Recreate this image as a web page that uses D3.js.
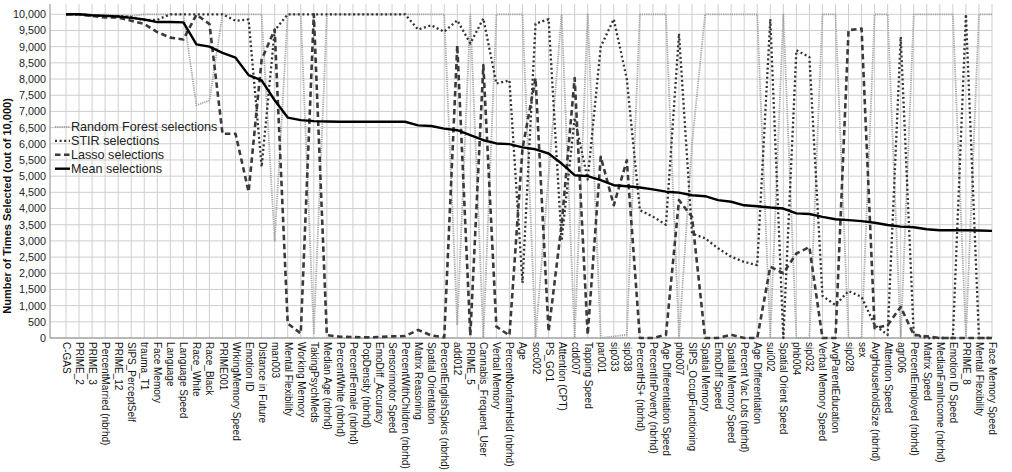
<!DOCTYPE html>
<html><head><meta charset="utf-8">
<script src="https://cdn.jsdelivr.net/npm/d3@7"></script>
<style>
html,body{margin:0;padding:0;background:#fff;}
svg{display:block;font-family:"Liberation Sans",Arial,sans-serif;}
</style></head>
<body>
<svg id="chart" width="1012" height="472"></svg>
<script>
const categories = ["C-GAS","PRIME_2","PRIME_3","PercentMarried (nbrhd)","PRIME_12","SIPS_PerceptSelf","trauma_T1","Face Memory","Language","Language Speed","Race_White","Race_Black","PRIME001","WrkingMemory Speed","Emotion ID","Distance in Future","man003","Mental Flexibility","Working Memory","TakingPsychMeds","Median Age (nbrhd)","PercentWhite (nbrhd)","PercentFemale (nbrhd)","PopDensity (nbrhd)","EmoDiff_Accuracy","Sensorimotor Speed","PercentWithChildren (nbrhd)","Matrix Reasoning","Spatial Orientation","PercentEnglishSpkrs (nbrhd)","add012","PRIME_5","Cannabis_Frequent_User","Verbal Memory","PercentNonfamHsld (nbrhd)","Age","soc002","PS_GO1","Attention (CPT)","cdd007","Tapping Speed","par001","sip033","sip038","PercentHS+ (nbrhd)","PercentInPoverty (nbrhd)","Age Differentiation Speed","phb007","SIPS_OccupFunctioning","Spatial Memory","EmoDiff Speed","Spatial Memory Speed","Percent Vac Lots (nbrhd)","Age Differentiation","sui002","Spatial Orient Speed","phb004","sip032","Verbal Memory Speed","AvgParentEducation","sip028","sex","AvgHouseholdSize (nbrhd)","Attention Speed","agr006","PercentEmployed (nbrhd)","Matrix Speed","MedianFamIncome (nbrhd)","Emotion ID Speed","PRIME_8","Mental Flexibility","Face Memory Speed"];

const rfValues = [10000,9990,9980,9990,9960,9950,10000,10000,10000,10000,7190,7340,10000,10000,10000,10000,3000,10000,10000,150,10000,10000,10000,10000,10000,10000,10000,10000,10000,10000,400,10000,0,10000,10000,10000,0,5000,10000,0,10000,0,50,100,10000,10000,10000,0,6000,10000,10000,10000,10000,10000,0,10000,0,0,10000,10000,0,0,10000,10000,0,10000,10000,10000,10000,0,10000,10000];

const stirValues = [10000,10000,9960,9950,9940,9920,9820,9830,10000,10000,10000,10000,10000,9800,9840,5290,9500,10000,10000,10000,10000,10000,10000,10000,10000,10000,10000,9530,9660,9460,9815,9100,9870,7860,7960,1700,9710,9850,3000,6800,4900,9000,9850,8000,3950,3750,3500,9400,3230,3080,2770,2510,2350,2250,9850,0,8890,8680,1300,1020,1450,1270,400,100,9300,100,0,0,0,10000,0,0];

const lassoValues = [10000,10000,9950,9900,9900,9800,9700,9450,9280,9220,9990,9700,6310,6310,4520,8600,9530,450,140,10000,90,40,30,20,30,50,60,250,80,20,9045,80,8430,350,80,5850,8030,200,3500,8030,100,5600,4100,5490,0,0,100,4260,3740,0,0,100,0,0,2200,2000,2610,2810,0,0,9510,9560,300,400,960,100,50,0,0,0,0,0];

const meanValues = [10000,10000,9970,9950,9930,9890,9840,9760,9760,9750,9070,9000,8810,8660,8120,7960,7345,6810,6730,6700,6690,6680,6680,6680,6680,6680,6680,6570,6550,6470,6420,6270,6110,6010,5990,5890,5830,5700,5390,5030,5000,4880,4720,4690,4650,4590,4520,4490,4410,4380,4260,4210,4100,4070,4030,4000,3850,3830,3740,3670,3640,3610,3560,3490,3440,3420,3360,3330,3330,3330,3320,3310];

const yTicks = [0,500,1000,1500,2000,2500,3000,3500,4000,4500,5000,5500,6000,6500,7000,7500,8000,8500,9000,9500,10000];

const seriesNames = ["Random Forest selections","STIR selections","Lasso selections","Mean selections"];

const styles = [
  {color:"#a3a3a3", width:1.8, dash:"1.2,1"},
  {color:"#333333", width:2.3, dash:"2,2.6"},
  {color:"#3a3a3a", width:2.6, dash:"5.5,3.5"},
  {color:"#000000", width:2.4, dash:null}
];

(function(){
const svg = d3.select("#chart");
const plotLeft = 50, plotRight = 992, plotTop = 4, plotBottom = 338;

const idx = d3.range(categories.length);
const x = d3.scalePoint().domain(idx).range([66, plotRight]);
const y = d3.scaleLinear().domain([0, 10000]).range([plotBottom, 14.3]);

const grid = svg.append("g");
grid.selectAll("line.h").data(yTicks).enter().append("line")
  .attr("x1", plotLeft).attr("x2", plotRight)
  .attr("y1", d => y(d)).attr("y2", d => y(d))
  .attr("stroke", "#cfcfcf").attr("stroke-width", 1);
grid.selectAll("line.v").data(idx).enter().append("line")
  .attr("x1", d => x(d)).attr("x2", d => x(d))
  .attr("y1", plotTop).attr("y2", plotBottom)
  .attr("stroke", "#cfcfcf").attr("stroke-width", 1);

const yAxis = svg.append("g").attr("transform", `translate(${plotLeft},0)`)
  .call(d3.axisLeft(y).tickValues(yTicks).tickFormat(d3.format(",")).tickSize(0).tickPadding(4));
yAxis.select(".domain").attr("d", `M0,${plotTop}V${plotBottom}`).attr("stroke", "#8a8a8a");
yAxis.selectAll("text").attr("font-size", 10.8).attr("fill", "#222").attr("font-family", '"Liberation Sans",Arial,sans-serif');

const xAxis = svg.append("g").attr("transform", `translate(0,${plotBottom})`)
  .call(d3.axisBottom(x).tickSize(0).tickFormat(i => categories[i]));
xAxis.select(".domain").attr("d", `M${plotLeft},0H${plotRight}`).attr("stroke", "#8a8a8a");
xAxis.selectAll("text")
  .attr("transform", "rotate(90)")
  .attr("x", 4).attr("y", 0).attr("dy", "0.35em")
  .attr("text-anchor", "start")
  .attr("font-size", 10).attr("fill", "#111")
  .attr("font-family", '"Liberation Sans",Arial,sans-serif');

svg.append("text")
  .attr("transform", "translate(11,206) rotate(-90)")
  .attr("text-anchor", "middle")
  .attr("font-size", 11).attr("font-weight", "bold").attr("fill", "#111")
  .text("Number of Times Selected (out of 10,000)");

const allSeries = [rfValues, stirValues, lassoValues, meanValues];
const line = d3.line().x((d, i) => x(i)).y(d => y(d));
allSeries.forEach((vals, k) => {
  const s = styles[k];
  const p = svg.append("path").datum(vals)
    .attr("d", line)
    .attr("fill", "none")
    .attr("stroke", s.color)
    .attr("stroke-width", s.width)
    .attr("stroke-linejoin", "round");
  if (s.dash) p.attr("stroke-dasharray", s.dash);
});

const legend = svg.append("g").attr("transform", "translate(55,127)");
seriesNames.forEach((name, k) => {
  const s = styles[k];
  const g = legend.append("g").attr("transform", `translate(0,${k * 13.9})`);
  const l = g.append("line").attr("x1", 0).attr("x2", 15).attr("y1", 0).attr("y2", 0)
    .attr("stroke", s.color).attr("stroke-width", s.width);
  if (s.dash) l.attr("stroke-dasharray", s.dash);
  g.append("text").attr("x", 16).attr("y", 0).attr("dy", "0.35em")
    .attr("font-size", 12.6).attr("fill", "#222").text(name);
});
})();
</script>
</body></html>
